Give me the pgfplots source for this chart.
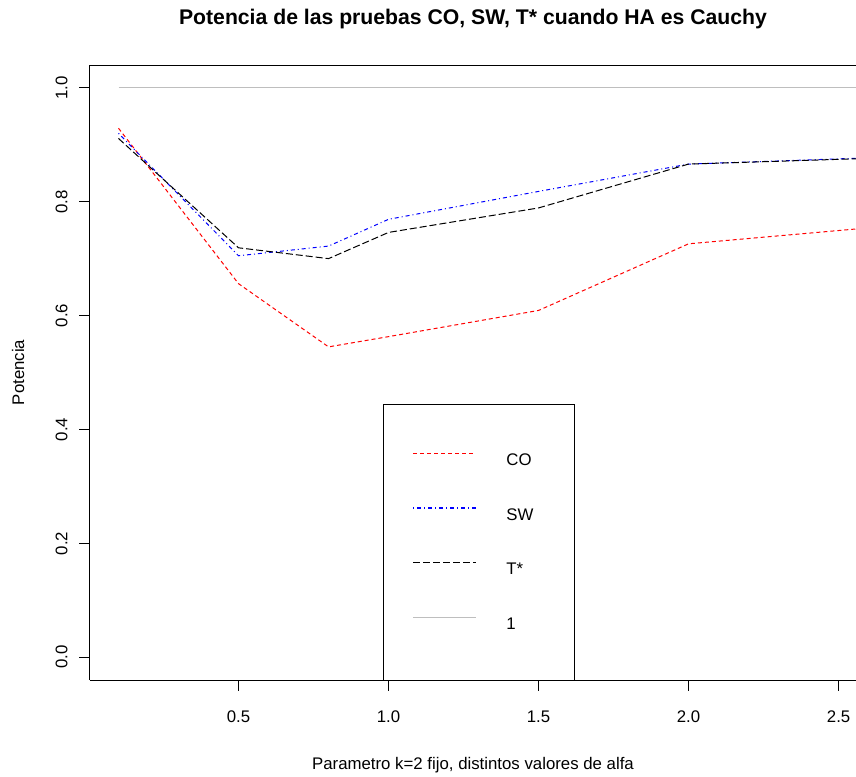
\documentclass[border=0pt]{standalone}
\usepackage{fontspec}
\setmainfont{Liberation Sans}
\usepackage{pgfplots}
\pgfplotsset{compat=1.18}
\definecolor{rgray}{RGB}{190,190,190}
\definecolor{rred}{RGB}{255,0,0}
\definecolor{rblue}{RGB}{0,0,255}
\tikzset{
  coline/.style={draw=rred, color=rred, line width=0.75pt, dash pattern=on 3pt off 2.25pt},
  swline/.style={draw=rblue, color=rblue, line width=0.75pt, dash pattern=on 0.75pt off 2.25pt on 3pt off 2.25pt},
  tline/.style={draw=black, color=black, line width=0.75pt, dash pattern=on 5.25pt off 2.25pt},
  oneline/.style={draw=rgray, color=rgray, line width=0.75pt, solid},
}
\begin{document}
\begin{tikzpicture}
\begin{axis}[
  at={(0,0)}, anchor=south west,
  scale only axis, width=574.5pt, height=461.25pt,
  xmin=0.005, xmax=2.558, ymin=-0.04, ymax=1.04,
  axis x line*=box, axis y line*=left,
  axis line style={black, line width=0.75pt, -},
  xtick={0.5,1.0,1.5,2.0,2.5}, xticklabels={0.5,1.0,1.5,2.0,2.5},
  ytick={0,0.2,0.4,0.6,0.8,1.0}, yticklabels={0.0,0.2,0.4,0.6,0.8,1.0},
  tick align=outside, xtick pos=bottom, ytick pos=left,
  major tick length=8pt, tick style={black, line width=0.75pt},
  ticklabel style={font=\fontsize{12.6}{15}\selectfont},
  xticklabel style={anchor=base, inner sep=0pt, yshift=-24.2pt},
  yticklabel style={xshift=-9pt, rotate=90, anchor=base, inner sep=0pt},
  title={Potencia de las pruebas CO, SW, T* cuando HA es Cauchy},
  title style={font=\bfseries\fontsize{15.9}{18}\selectfont, at={(axis description cs:0.5,1.0536)}, anchor=base, inner sep=0pt},
  xlabel={Parametro k=2 fijo, distintos valores de alfa},
  xlabel style={font=\fontsize{12.6}{15}\selectfont, at={(axis description cs:0.5,-0.1447)}, anchor=base, inner sep=0pt},
  ylabel={Potencia},
  ylabel style={font=\fontsize{12.6}{15}\selectfont, at={(axis description cs:-0.094,0.5)}, rotate=0, anchor=center, inner sep=0pt},
  legend style={at={(axis description cs:0.3825,0)}, anchor=south west, draw=none, fill=none,
    inner xsep=22pt, inner ysep=38pt, row sep=31.5pt, font=\fontsize{12.6}{15}\selectfont,
    nodes={inner sep=0pt, text height=9pt, text depth=0pt},
    /tikz/every odd column/.append style={column sep=22.5pt}},
  legend cell align=left,
  legend image code/.code={\draw[#1] (0pt,4.5pt) -- (47pt,4.5pt);},
]
\addplot[coline, forget plot] coordinates {
(0.1,0.929) (0.5,0.656) (0.8,0.545) (1.0,0.563) (1.5,0.609) (2.0,0.726) (2.6,0.754)};
\addplot[swline, forget plot] coordinates {
(0.1,0.920) (0.5,0.705) (0.8,0.722) (1.0,0.769) (1.5,0.818) (2.0,0.866) (2.6,0.877)};
\addplot[tline, forget plot] coordinates {
(0.1,0.911) (0.5,0.719) (0.8,0.700) (1.0,0.746) (1.5,0.789) (2.0,0.866) (2.6,0.876)};
\addplot[oneline, forget plot] coordinates {(0.1,1.0) (2.6,1.0)};
\addlegendimage{coline, line width=0.9pt}
\addlegendentry{\makebox[30pt][l]{CO}}
\addlegendimage{swline, line width=0.9pt}
\addlegendentry{\makebox[30pt][l]{SW}}
\addlegendimage{tline}
\addlegendentry{\makebox[30pt][l]{T*}}
\addlegendimage{oneline}
\addlegendentry{\makebox[30pt][l]{1}}
\draw[black, line width=0.75pt] (axis description cs:0.3825,0) rectangle (axis description cs:0.6331,0.4472);
\end{axis}
\pgfresetboundingbox
\useasboundingbox (-67.5pt,-72pt) rectangle (574.5pt,510pt);
\end{tikzpicture}
\end{document}
